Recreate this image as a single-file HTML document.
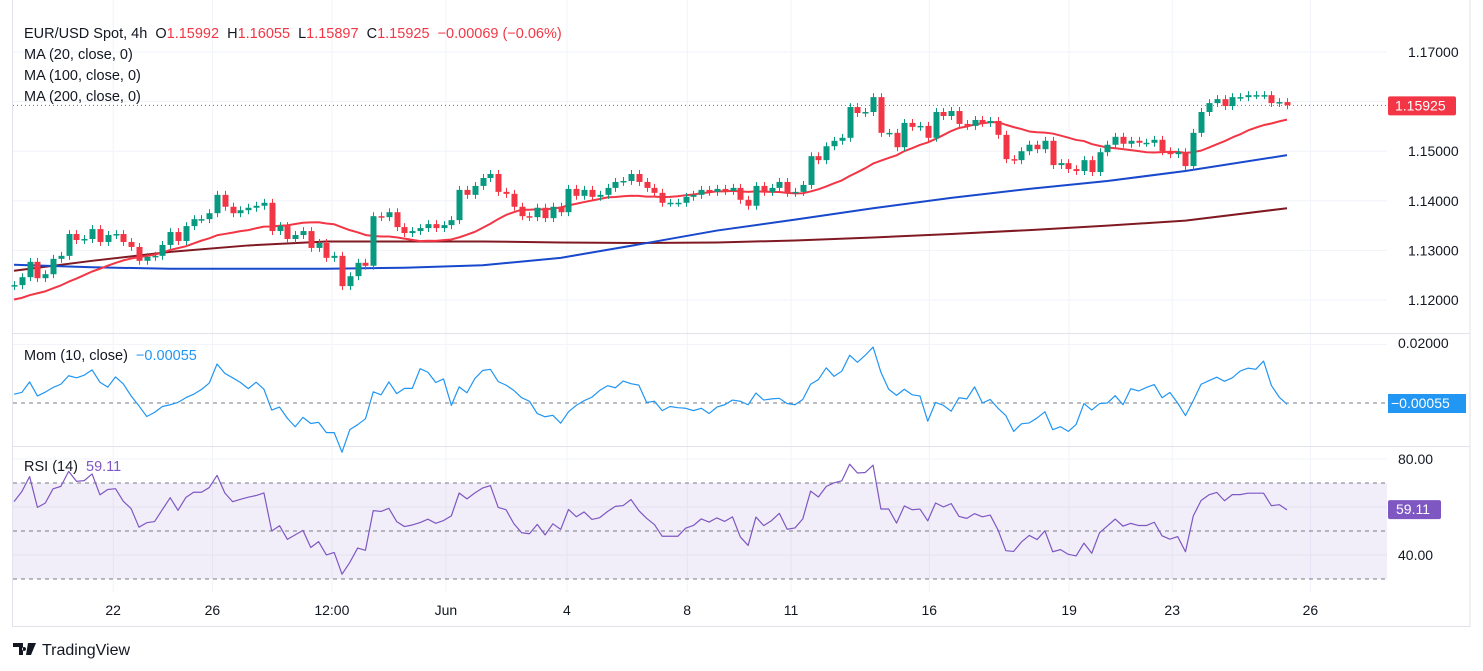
<!DOCTYPE html>
<html><head><meta charset="utf-8"><style>
html,body{margin:0;padding:0;background:#fff;}
svg{display:block;font-family:"Liberation Sans",sans-serif;}
</style></head><body>
<svg id="c" width="1483" height="671" viewBox="0 0 1483 671"></svg>
<script>
const history = [1.1180,1.1170,1.1165,1.1175,1.1160,1.1172,1.1185,1.1195,1.1180,1.1200,1.1210,1.1205,1.1220,1.1215,1.1230,1.1225,1.1240,1.1235,1.1228];
const closes = [1.1230,1.1246,1.1277,1.1244,1.1252,1.1283,1.1289,1.1333,1.1321,1.1323,
1.1343,1.1317,1.1331,1.1333,1.1317,1.1307,1.1279,1.1287,1.1289,1.1311,
1.1337,1.1319,1.1349,1.1363,1.1363,1.1375,1.1412,1.1388,1.1375,1.1381,
1.1386,1.1390,1.1396,1.1339,1.1349,1.1323,1.1331,1.1339,1.1305,1.1315,1.1285,
1.1289,1.1228,1.1248,1.1275,1.1269,1.1369,1.1367,1.1377,1.1347,1.1335,
1.1339,1.1345,1.1353,1.1345,1.1351,1.1361,1.1422,1.1412,1.1430,1.1446,
1.1454,1.1418,1.1414,1.1388,1.1369,1.1367,1.1386,1.1365,1.1388,1.1377,
1.1424,1.1410,1.1422,1.1408,1.1412,1.1426,1.1438,1.1440,1.1454,1.1438,1.1426,1.1416,1.1396,
1.1396,1.1396,1.1408,1.1412,1.1422,1.1418,1.1424,1.1420,1.1426,1.1402,
1.1390,1.1430,1.1418,1.1426,1.1438,1.1416,1.1418,1.1432,1.1490,1.1482,
1.1510,1.1521,1.1527,1.1589,1.1577,1.1579,1.1609,1.1537,1.1537,1.1508,
1.1557,1.1549,1.1551,1.1527,1.1579,1.1571,1.1581,1.1555,1.1551,1.1563,1.1557,1.1561,1.1533,
1.1484,1.1482,1.1500,1.1513,1.1504,1.1521,1.1472,1.1476,1.1464,1.1460,
1.1482,1.1458,1.1498,1.1513,1.1529,1.1515,1.1521,1.1517,1.1517,1.1523,
1.1500,1.1494,1.1498,1.1470,1.1537,1.1579,1.1597,1.1605,1.1591,1.1609,
1.1609,1.1613,1.1613,1.1613,1.1597,1.1599,1.15925];
const maIdx = [0,10,20,30,40,50,60,70,80,90,100,110,120,130,140,150,163];
const ma100 = [1.1271,1.1266,1.1263,1.1263,1.1263,1.1265,1.1270,1.1285,1.1312,1.1340,1.1362,1.1385,1.1406,1.1424,1.1440,1.1460,1.1492];
const ma200 = [1.1259,1.1279,1.1297,1.1310,1.1318,1.1318,1.1318,1.1316,1.1315,1.1316,1.1320,1.1326,1.1333,1.1341,1.1350,1.1360,1.1385];
const priceTicks = [1.17,1.16,1.15,1.14,1.13,1.12];
const priceTickLabels = ["1.17000","","1.15000","1.14000","1.13000","1.12000"];
const timeLabels = ["22","26","12:00","Jun","4","8","11","16","19","23","26"];
const timeIdx = [12.7,25.4,40.7,55.3,70.8,86.2,99.5,117.2,135.1,148.3,166];
const lastPrice = 1.15925, lastMom = -0.00055, lastRsi = 59.11;

const NS="http://www.w3.org/2000/svg", svg=document.getElementById('c');
function mk(t,a,p){const e=document.createElementNS(NS,t);for(const k in a)e.setAttribute(k,a[k]);(p||svg).appendChild(e);return e;}
const X0=14, X1=1287, PR=1387;
const xs=i=>X0+i*(X1-X0)/(closes.length-1);
const yP=p=>52+(1.17-p)*4960;
const yM=m=>403-m*2930;
const yR=r=>459+(80-r)*2.4;
const all=history.concat(closes), H=history.length;

let g=mk('g',{});
priceTicks.forEach(p=>mk('line',{x1:13,x2:PR,y1:yP(p),y2:yP(p),stroke:'#f0f3fa'},g));
[0.02].forEach(m=>mk('line',{x1:13,x2:PR,y1:yM(m),y2:yM(m),stroke:'#f0f3fa'},g));
[80,60,40].forEach(r=>mk('line',{x1:13,x2:PR,y1:yR(r),y2:yR(r),stroke:'#f0f3fa'},g));
timeIdx.forEach(i=>mk('line',{x1:xs(i),x2:xs(i),y1:0,y2:592,stroke:'#f0f3fa'},g));
mk('line',{x1:12,x2:1470,y1:333.5,y2:333.5,stroke:'#e0e3eb'});
mk('line',{x1:12,x2:1470,y1:446.5,y2:446.5,stroke:'#e0e3eb'});
mk('rect',{x:12.5,y:-1,width:1457.5,height:627.5,fill:'none',stroke:'#e0e3eb'});

mk('line',{x1:13,x2:PR,y1:yP(lastPrice),y2:yP(lastPrice),stroke:'#f23645','stroke-dasharray':'1,3'});

function line(pts,col,w,name){const e=mk('polyline',{points:pts.map(p=>p.join(',')).join(' '),fill:'none',stroke:col,'stroke-width':w,'stroke-linejoin':'round'});return e;}
line(maIdx.map((i,k)=>[xs(i),yP(ma200[k])]),'#801922',2,'ma200-line');
line(maIdx.map((i,k)=>[xs(i),yP(ma100[k])]),'#1848cc',2,'ma100-line');
const ma20pts=closes.map((c,i)=>{let s=0;for(let k=0;k<20;k++)s+=all[H+i-k];return [xs(i),yP(s/20)];});
line(ma20pts,'#f23645',2,'ma20-line');

const cg=mk('g',{});
closes.forEach((c,i)=>{
  const o=all[H+i-1], up=c>=o, col=up?'#089981':'#f23645';
  const hi=Math.max(o,c)+0.0008, lo=Math.min(o,c)-0.0008, x=Math.round(xs(i))+0.5;
  const w=mk('line',{x1:x,x2:x,y1:yP(hi),y2:yP(lo),stroke:col,'stroke-width':1},cg);
  
  
  const t=Math.min(yP(o),yP(c)),h=Math.max(1.5,Math.abs(yP(o)-yP(c)));
  const b=mk('rect',{x:x-3,y:t,width:6,height:h,fill:col},cg);
  
  
});

mk('line',{x1:13,x2:PR,y1:yM(0),y2:yM(0),stroke:'#787b86','stroke-dasharray':'4,4'});
line(closes.map((c,i)=>[xs(i),yM(c-all[H+i-10])]),'#2196f3',1.2,'momentum-line');

mk('rect',{x:13,y:yR(70),width:PR-13,height:yR(30)-yR(70),fill:'rgba(126,87,194,0.1)'});
[70,50,30].forEach(r=>mk('line',{x1:13,x2:PR,y1:yR(r),y2:yR(r),stroke:'#787b86','stroke-dasharray':'4,4'}));
let ag=0,al=0;for(let k=1;k<=14;k++){const d=all[k]-all[k-1];if(d>0)ag+=d;else al-=d;}ag/=14;al/=14;
const rsi=[];for(let k=15;k<all.length;k++){const d=all[k]-all[k-1];ag=(ag*13+Math.max(d,0))/14;al=(al*13+Math.max(-d,0))/14;if(k>=H)rsi.push(100-100/(1+ag/(al||1e-9)));}
line(closes.map((c,i)=>[xs(i),yR(rsi[i])]),'#7e57c2',1.2,'rsi-line');

function txt(x,y,s,a){const e=mk('text',Object.assign({x:x,y:y,'font-size':14,fill:'#131722','xml:space':'preserve'},a||{}));e.textContent=s;return e;}
priceTicks.forEach((p,k)=>{if(priceTickLabels[k]){const e=txt(1408,yP(p)+5,priceTickLabels[k]);}});
txt(1398,348,"0.02000");
txt(1398,yR(80)+5,"80.00");txt(1398,yR(40)+5,"40.00");
timeLabels.forEach((s,k)=>{const e=txt(xs(timeIdx[k]),615,s,{'text-anchor':'middle'});});

mk('rect',{x:1388,y:yP(lastPrice)-9,width:68,height:19,fill:'#f23645',rx:2});
txt(1395,yP(lastPrice)+5,"1.15925",{fill:'#fff'});
mk('rect',{x:1388,y:394,width:78,height:19,fill:'#2196f3'});
txt(1391,408,"\u22120.00055",{fill:'#fff'});
mk('rect',{x:1388,y:yR(lastRsi)-9,width:53,height:19,fill:'#7e57c2',rx:2});
txt(1396,yR(lastRsi)+5,"59.11",{fill:'#fff'});

const h=txt(24,38,"",{'font-size':14.5});
h.innerHTML='<tspan fill="#131722">EUR/USD Spot, 4h\u00a0\u00a0O</tspan><tspan fill="#f23645">1.15992</tspan><tspan fill="#131722">\u00a0\u00a0H</tspan><tspan fill="#f23645">1.16055</tspan><tspan fill="#131722">\u00a0\u00a0L</tspan><tspan fill="#f23645">1.15897</tspan><tspan fill="#131722">\u00a0\u00a0C</tspan><tspan fill="#f23645">1.15925\u00a0\u00a0\u22120.00069\u00a0(\u22120.06%)</tspan>';
txt(24,59,"MA (20, close, 0)",{'font-size':14.5});
txt(24,80,"MA (100, close, 0)",{'font-size':14.5});
txt(24,101,"MA (200, close, 0)",{'font-size':14.5});
const m=txt(24,360,"",{'font-size':14.5});
m.innerHTML='<tspan>Mom (10, close)</tspan><tspan fill="#2196f3" dx="8">\u22120.00055</tspan>';
const r=txt(24,471,"",{'font-size':14.5});
r.innerHTML='<tspan>RSI (14)</tspan><tspan fill="#7e57c2" dx="8">59.11</tspan>';

const lg=mk('g',{});
mk('path',{d:'M13 643h10v12h-4v-8h-6z M24 647a2 2 0 1 0 0.1 0 M28 643h8l-5 12h-5z',fill:'#131722'},lg);
txt(42,655,"TradingView",{'font-size':16},lg);
</script>
</body></html>
